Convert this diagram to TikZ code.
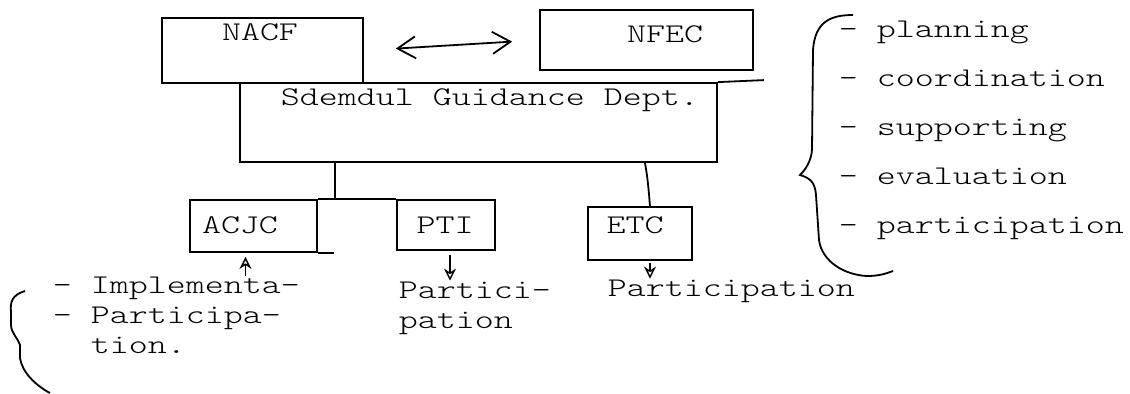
\documentclass[tikz,border=0pt]{standalone}
\usepackage{fontspec}
\newfontfamily\typewriter{lmmonolt10-regular.otf}[FakeStretch=1.34]
\usetikzlibrary{arrows.meta,positioning}

\begin{document}
\begin{tikzpicture}[x=0.5pt,y=-0.5pt,line width=0.9pt,
    >={Straight Barb[length=9pt,width=11pt]},
    every node/.style={font=\fontsize{13.5}{15}\typewriter},
    unit/.style={draw,inner sep=0pt},
    tag/.style={inner sep=0pt,anchor=base},
    item/.style={inner sep=0pt,anchor=base west},
    hint/.style={line width=0.7pt,>={Stealth[open,length=6pt,width=6pt]}}]
  \useasboundingbox (0,0) rectangle (1130,393);

  % boxes
  \node[unit,minimum width=100.5pt,minimum height=32.5pt] (nacf) at (262.5,50.5) {};
  \node[unit,minimum width=106.5pt,minimum height=30pt] (nfec) at (646.5,40) {};
  \node[unit,minimum width=238.5pt,minimum height=39.5pt] (dept) at (478.5,122.5) {};
  \node[unit,minimum width=63.5pt,minimum height=26pt] (acjc) at (253.5,226) {};
  \node[unit,minimum width=49pt,minimum height=25pt] (pti) at (446,225) {};
  \node[unit,minimum width=52pt,minimum height=26.5pt] (etc) at (640,233.5) {};

  \node[tag] (nacf-t) at (260,40) {NACF};
  \node[tag] (nfec-t) at (665,42) {NFEC};
  \node[item] (dept-t) at (280,105) {Sdemdul Guidance Dept.};
  \node[tag] (acjc-t) at (240,233) {ACJC};
  \node[tag] (pti-t) at (445,233) {PTI};
  \node[tag] (etc-t) at (635,233) {ETC};

  % what each level does
  \node[item] (imp-a) at (52,293) {- Implementa-};
  \node[item] (imp-b) at (52,323) {- Participa-};
  \node[item] (imp-c) at (52,353) {\phantom{- }tion.};
  \node[item] (pti-a) at (398,298) {Partici-};
  \node[item] (pti-b) at (398,328) {pation};
  \node[item] (part) at (607,296) {Participation};
  \foreach \w [count=\i] in {planning,coordination,supporting,evaluation,participation}
    \node[item] (role-\i) at (838,{37+49*(\i-1)}) {- \w};

  % links
  \draw[<->,shorten <=16pt,shorten >=13.5pt] (nacf.east) -- (nfec.west);
  \draw (dept.north east) -- ++(46,-2);
  \coordinate (fork) at (335,200);
  \draw (dept.south -| fork) -- (fork);
  \draw (acjc.north east) -- (pti.north west);
  \draw (acjc.south east) -- ++(16,0);
  \draw ([xshift=2.5pt]etc.north |- dept.south) to[out=-80,in=95] ([xshift=5pt]etc.north);

  \draw[hint,<-] ([xshift=-4pt,yshift=-2pt]acjc.south) -- ([xshift=-4pt]acjc.south |- imp-a.north);
  \draw[hint,->] ([xshift=2pt,yshift=-2pt]pti.south) -- ([xshift=2pt]pti.south |- pti-a.north);
  \draw[hint,->] ([xshift=5pt,yshift=-1pt]etc.south) -- ([xshift=5pt]etc.south |- part.north);

  % braces
  \draw (853,15) .. controls (830,15) and (815,22) .. (813,50) -- (812,150)
    .. controls (811,162) and (805,170) .. (800,175)
    .. controls (810,178) and (815,182) .. (816,195) -- (819,240)
    .. controls (822,262) and (845,275) .. (867,276)
    .. controls (878,276) and (885,274) .. (893,271);
  \draw (25,291) .. controls (12,295) and (10,302) .. (11,312) -- (11,325)
    .. controls (11,333) and (18,338) .. (20,345) -- (20,358)
    .. controls (22,372) and (35,385) .. (50,393);
\end{tikzpicture}
\end{document}
